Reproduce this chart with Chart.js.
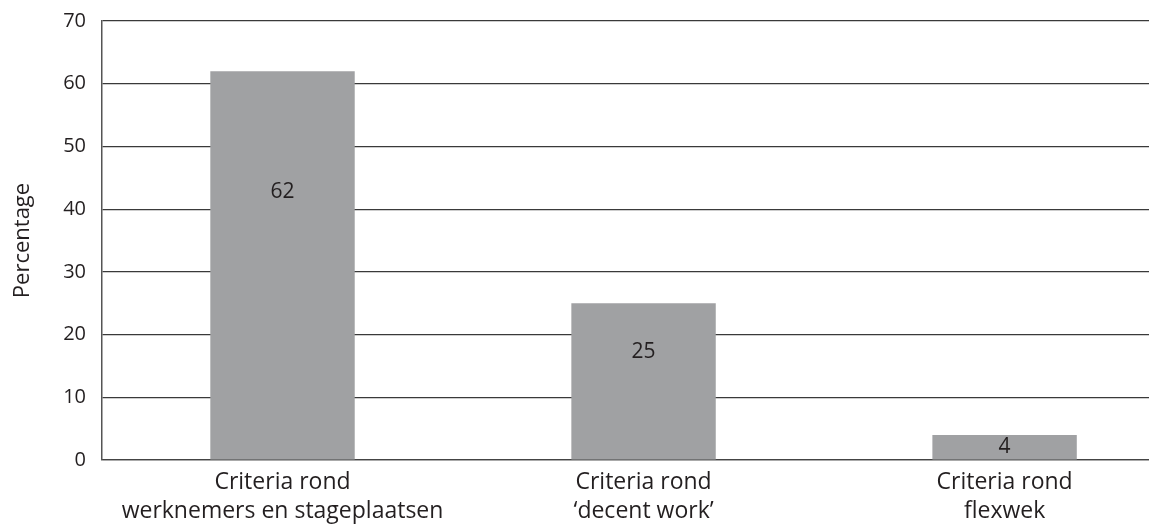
<!DOCTYPE html>
<html lang="nl">
<head>
    <meta charset="UTF-8">
    <title>Criteria</title>
    <script src="https://cdn.jsdelivr.net/npm/chart.js@4.4.1/dist/chart.umd.min.js"></script>
    <style>
        html, body { margin: 0; padding: 0; background: #fff; }
        #wrap { width: 1149px; height: 526px; position: relative; }
    </style>
</head>
<body>
<div id="wrap"><canvas id="myCanvas"></canvas></div>
<script>
// data
var categorieen = [
    ['Criteria rond', 'werknemers en stageplaatsen'],
    ['Criteria rond', '\u2018decent work\u2019'],
    ['Criteria rond', 'flexwek']
];
var percentages = [62, 25, 4];
var yTicks = [0, 10, 20, 30, 40, 50, 60, 70];

var tekstKleur = '#231f20';
var lettertype = "'Open Sans', 'Noto Sans', sans-serif";

// waarden in de balken
var waardeLabels = {
    id: 'waardeLabels',
    afterDatasetsDraw: function(chart) {
        var ctx = chart.ctx;
        var meta = chart.getDatasetMeta(0);
        ctx.save();
        ctx.fillStyle = tekstKleur;
        ctx.font = '21px ' + lettertype;
        ctx.textAlign = 'center';
        ctx.textBaseline = 'middle';
        meta.data.forEach(function(bar, i) {
            var h = bar.base - bar.y;
            var y = bar.y + Math.max(h * 0.31, 12);
            ctx.fillText(String(percentages[i]), bar.x, y);
        });
        ctx.restore();
    }
};

var ctx = document.getElementById('myCanvas').getContext('2d');
var myChart = new Chart(ctx, {
    type: 'bar',
    data: {
        datasets: [{
            label: 'Percentage',
            data: percentages.map(function(v, i) { return { x: i, y: v }; }),
            backgroundColor: '#a0a1a3',
            borderWidth: 0,
            barPercentage: 0.4,
            categoryPercentage: 1
        }]
    },
    options: {
        responsive: true,
        maintainAspectRatio: false,
        animation: false,
        layout: { padding: { top: 21, right: 0, bottom: 0, left: 0 } },
        plugins: {
            legend: { display: false },
            tooltip: { enabled: false }
        },
        scales: {
            x: {
                type: 'linear',
                offset: false,
                min: -0.5,
                max: 2.4,
                afterBuildTicks: function(scale) {
                    scale.ticks = categorieen.map(function(c, i) { return { value: i }; });
                },
                afterFit: function(scale) {
                    scale.height = 66;
                    scale.paddingLeft = 0;
                    scale.paddingRight = 0;
                },
                grid: { display: false, drawTicks: false, offset: false },
                border: { display: true, color: '#444', width: 1.3 },
                ticks: {
                    autoSkip: false,
                    maxRotation: 0,
                    padding: 8,
                    color: tekstKleur,
                    font: { family: lettertype, size: 23, lineHeight: 1.25 },
                    callback: function(value) { return categorieen[value]; }
                }
            },
            y: {
                min: 0,
                max: 70,
                afterBuildTicks: function(scale) {
                    scale.ticks = yTicks.map(function(v) { return { value: v }; });
                },
                afterFit: function(scale) {
                    scale.width = 102;
                    scale.paddingTop = 0;
                    scale.paddingBottom = 0;
                },
                grid: { color: '#3a3a3a', lineWidth: 1.2, drawTicks: false },
                border: { display: true, color: '#555', width: 1.5 },
                ticks: {
                    padding: 16,
                    color: tekstKleur,
                    font: { family: lettertype, size: 20 }
                },
                title: {
                    display: true,
                    text: 'Percentage',
                    color: tekstKleur,
                    font: { family: lettertype, size: 22 },
                    padding: { top: 10, bottom: 0 }
                }
            }
        }
    },
    plugins: [waardeLabels]
});
</script>
</body>
</html>
